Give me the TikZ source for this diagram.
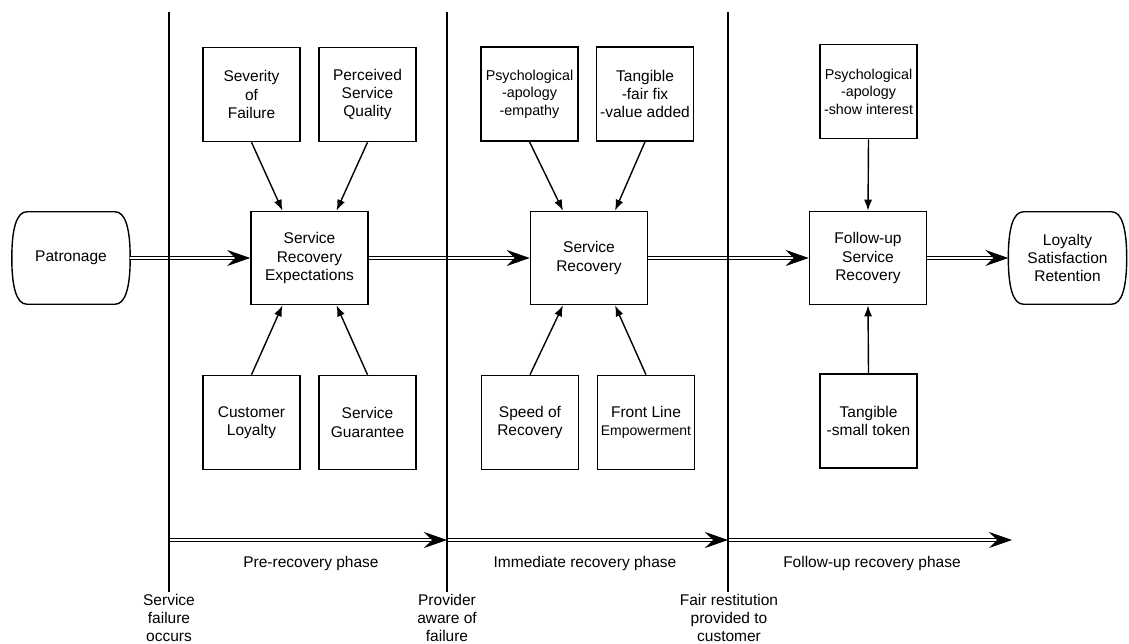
\documentclass[tikz,border=0pt]{standalone}
\usepackage{fontspec}
\setmainfont{Liberation Sans}
\usetikzlibrary{arrows.meta}

\begin{document}
\begin{tikzpicture}[x=1pt,y=-1pt,
  font=\fontsize{15.5}{18.3}\selectfont,
  box/.style={draw,line width=1.6pt,minimum width=97pt,minimum height=94pt,inner sep=0pt,align=center},
  mainbox/.style={draw,line width=1.6pt,minimum width=117pt,minimum height=93pt,inner sep=0pt,align=center},
  endcap/.style={minimum width=118pt,minimum height=92pt,inner sep=0pt,align=center},
  capline/.style={line width=1.4pt},
  packed/.style={font=\fontsize{14.3}{17.5}\selectfont},
  feed/.style={line width=1.4pt,-{Latex[length=11pt,width=8pt]}},
  flow/.style={double,double distance=2pt,line width=0.9pt,-{Stealth[length=23pt,width=16pt,inset=8pt]}},
  phaseline/.style={line width=1.4pt}]
  \useasboundingbox (0,0) rectangle (1129,644);

%% main chain
  \node[endcap] (patron) at (71,258) {Patronage};
  \node[mainbox] (sre) at (309.5,258) {Service\\Recovery\\Expectations};
  \node[mainbox] (sr) at (589,258) {Service\\Recovery};
  \node[mainbox] (fsr) at (868,258) {Follow-up\\Service\\Recovery};
  \node[endcap] (loyal) at (1067.5,258) {Loyalty\\Satisfaction\\Retention};

%% outline of the two end nodes
  \foreach \n in {patron,loyal}
    \draw[capline] ([xshift=15pt]\n.north west) -- ([xshift=-15pt]\n.north east)
      .. controls ([xshift=-5pt]\n.north east) and ([yshift=30pt]\n.east) .. (\n.east)
      .. controls ([yshift=-30pt]\n.east) and ([xshift=-5pt]\n.south east) .. ([xshift=-15pt]\n.south east)
      -- ([xshift=15pt]\n.south west)
      .. controls ([xshift=5pt]\n.south west) and ([yshift=-30pt]\n.west) .. (\n.west)
      .. controls ([yshift=30pt]\n.west) and ([xshift=5pt]\n.north west) .. cycle;

%% inputs above
  \node[box] (sev) at (251.5,94.5) {Severity\\of\\Failure};
  \node[box] (perc) at (367.5,94.5) {Perceived\\Service\\Quality};
  \node[box,packed] (psyA) at (529.5,94) {Psychological\\-apology\\-empathy};
  \node[box] (tangA) at (645,94) {Tangible\\-fair fix\\-value added};
  \node[box,packed] (psyB) at (868.5,91.5) {Psychological\\-apology\\-show interest};

%% inputs below
  \node[box] (cust) at (251.5,422.5) {Customer\\Loyalty};
  \node[box] (guar) at (367.5,422.5) {Service\\Guarantee};
  \node[box] (speed) at (530,422.5) {Speed of\\Recovery};
  \node[box] (front) at (646,422.5) {Front Line\\{\fontsize{14}{17}\selectfont Empowerment}};
  \node[box] (tangB) at (868.5,421) {Tangible\\-small token};

  \draw[feed] (sev.south) -- ([xshift=-27pt]sre.north);
  \draw[feed] (perc.south) -- ([xshift=27pt]sre.north);
  \draw[feed] (cust.north) -- ([xshift=-27pt]sre.south);
  \draw[feed] (guar.north) -- ([xshift=27pt]sre.south);
  \draw[feed] (psyA.south) -- ([xshift=-26pt]sr.north);
  \draw[feed] (tangA.south) -- ([xshift=26pt]sr.north);
  \draw[feed] (speed.north) -- ([xshift=-26pt]sr.south);
  \draw[feed] (front.north) -- ([xshift=26pt]sr.south);
  \draw[feed] (psyB.south) -- (fsr.north);
  \draw[feed] (tangB.north) -- (fsr.south);

  \draw[flow] (patron.east) -- (sre.west);
  \draw[flow] (sre.east) -- (sr.west);
  \draw[flow] (sr.east) -- (fsr.west);
  \draw[flow] (fsr.east) -- (loyal.west);

%% time line
  \coordinate (fail) at (169,540);
  \coordinate (aware) at (447,540);
  \coordinate (fair) at (728,540);
  \coordinate (phaseend) at (1012,540);
  \draw[flow] (fail) -- (aware);
  \draw[flow] (aware) -- (fair);
  \draw[flow] (fair) -- (phaseend);

  \draw[phaseline] (169,12) coordinate (failtop) -- (169,592) coordinate (failbot);
  \draw[phaseline] (447,12) coordinate (awaretop) -- (447,592) coordinate (awarebot);
  \draw[phaseline] (728,12) coordinate (fairtop) -- (728,592) coordinate (fairbot);

  \node (prelbl) at (311,563) {Pre-recovery phase};
  \node (immlbl) at (585,563) {Immediate recovery phase};
  \node (fuplbl) at (872,563) {Follow-up recovery phase};
  \node[align=center] (faillbl) at (169,618) {Service\\failure\\occurs};
  \node[align=center] (awarelbl) at (447,618) {Provider\\aware of\\failure};
  \node[align=center] (fairlbl) at (729,618) {Fair restitution\\provided to\\customer};

\end{tikzpicture}
\end{document}
